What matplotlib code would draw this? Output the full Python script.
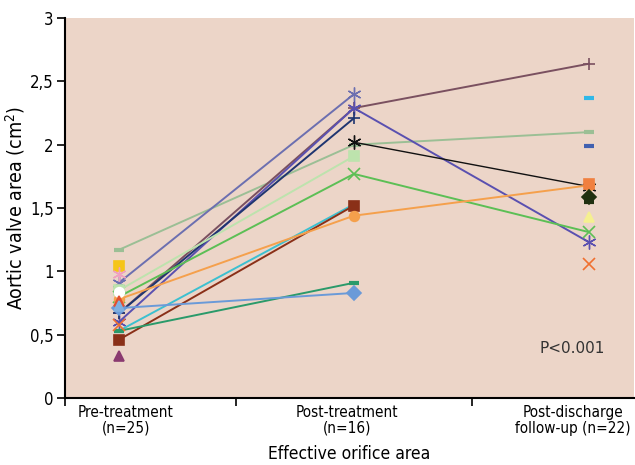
import numpy as np
import matplotlib
matplotlib.use("Agg")
import matplotlib.pyplot as plt

categories = ["Pre-treatment\n(n=25)", "Post-treatment\n(n=16)", "Post-discharge\nfollow-up (n=22)"]
y_ticks = [0, 0.5, 1, 1.5, 2, 2.5, 3]
y_tick_labels = ["0", "0,5", "1", "1,5", "2", "2,5", "3"]

nan = np.nan
# patient series: pre, post, follow-up
pre_vals  = [1.17, 0.67, 0.91, 0.60, 0.67, nan, 0.85, 0.80, 0.53, 0.46, 0.78, 0.53, 0.71,
             1.04, 0.98, 0.84, 0.77, 0.73, 0.58, 0.33, nan, nan, nan, nan, nan, nan]
post_vals = [2.00, 2.29, 2.40, 2.29, 2.21, 2.02, 1.91, 1.77, 1.53, 1.52, 1.44, 0.91, 0.83,
             nan, nan, nan, nan, nan, nan, nan, nan, nan, nan, nan, nan, nan]
fu_vals   = [2.10, 2.64, nan, 1.23, nan, 1.67, nan, 1.31, nan, nan, 1.68, nan, nan,
             nan, nan, nan, nan, nan, 1.06, nan, 2.37, 1.99, 1.69, 1.59, 1.55, 1.43]

ast = (6, 2, 0)
colors  = ["#9bbf95", "#7a5060", "#6c6fb0", "#5a50b0", "#1f3570", "#111111", "#bde3ad", "#5cbf55",
           "#3cc0d0", "#8a3018", "#f5a04c", "#2a9a6a", "#6a9ad8",
           "#f5c518", "#f0a0c0", "#ffffff", "#e05030", "#80b0e0", "#f07030", "#8a3a70",
           "#30b8e8", "#4060b0", "#f08040", "#203010", "#203010", "#f5f090"]
markers = ["_", "+", ast, ast, "+", ast, "s", "x",
           "_", "s", "o", "_", "D",
           "s", ast, "o", "^", "^", "x", "^",
           "_", "_", "s", "D", "_", "^"]

plt.rcParams['font.family'] = ['DejaVu Sans']
plt.rcParams['font.stretch'] = 'condensed'

fig = plt.figure(figsize=(6.35, 4.65), dpi=100)
ax = fig.add_axes([0.102, 0.144, 0.896, 0.817])
ax.set_facecolor("#ecd5c8")

x = np.arange(3)
for p, q, r, c, m in zip(pre_vals, post_vals, fu_vals, colors, markers):
    ys = np.array([p, q, r], dtype=float)
    mew = 1.2
    ms = 7
    lw = 1.4
    if m == "_":
        mew = 3
        ms = 7
    if m in ("+", "x"):
        ms = 9
    if m == ast:
        ms = 10
        mew = 1.0
    if c == "#111111":
        lw = 1.0
    ax.plot(x, ys, color=c, lw=lw, marker=m, markersize=ms,
            markerfacecolor=c, markeredgecolor=c, markeredgewidth=mew)

ax.set_xlim(-0.23, 2.19)
ax.set_ylim(0, 3)
ax.set_yticks(y_ticks)
ax.set_yticklabels(y_tick_labels, fontsize=12)
ax.set_xticks([0.03, 0.97, 1.93])
ax.set_xticklabels(categories, fontsize=11, linespacing=1.05)
ax.tick_params(axis='x', which='major', length=0, pad=5)
ax.set_xticks([-0.23, 0.5, 1.5], minor=True)
ax.tick_params(axis='x', which='minor', length=6, direction='out', width=1.2)
ax.tick_params(axis='y', length=6, direction='out', pad=2, width=1.2)
for s in ("top", "right"):
    ax.spines[s].set_visible(False)
ax.spines['left'].set_linewidth(1.5)
ax.spines['bottom'].set_linewidth(1.5)

ax.set_ylabel("Aortic valve area (cm$^2$)", fontsize=14, labelpad=2)
ax.set_xlabel("Effective orifice area", fontsize=12.5, labelpad=7)
ax.text(1.79, 0.39, "P<0.001", fontsize=11, color="#333333", va="center", ha="left",
        stretch="normal")

fig.savefig("out.png", dpi=100)
